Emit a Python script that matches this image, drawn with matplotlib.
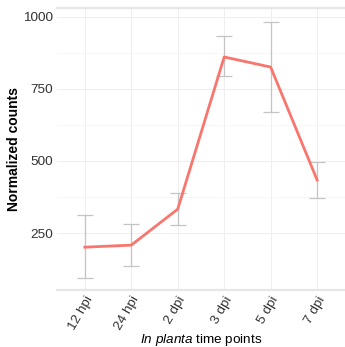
import numpy as np
import matplotlib.pyplot as plt

# data
timepoints = ['12 hpi', '24 hpi', '2 dpi', '3 dpi', '5 dpi', '7 dpi']
counts = [201, 208, 333, 861, 826, 434]
err_low = [94, 135, 278, 795, 670, 371]
err_high = [312, 281, 389, 934, 983, 497]

plt.rcParams['font.family'] = ['Liberation Sans', 'DejaVu Sans']
plt.rcParams['mathtext.fontset'] = 'custom'
plt.rcParams['mathtext.it'] = 'Liberation Sans:italic'
plt.rcParams['mathtext.rm'] = 'Liberation Sans'

fig = plt.figure(figsize=(3.45, 3.47), dpi=100)
ax = fig.add_axes([0.165, 0.164, 0.835, 0.813])

x = np.arange(len(timepoints))
lo = np.array(counts) - np.array(err_low)
hi = np.array(err_high) - np.array(counts)

# error bars first, line on top
ax.errorbar(x, counts, yerr=[lo, hi], fmt='none', ecolor='#c4c4c4',
            elinewidth=0.9, capsize=6, capthick=0.9, zorder=2)
ax.plot(x, counts, color='#F8766D', lw=2, zorder=3)

ax.set_xlim(-0.6, 5.6)
ax.set_ylim(52, 1031)
ax.set_xticks(x)
ax.set_xticklabels(timepoints, rotation=60, ha='right', rotation_mode='anchor')
ax.set_yticks([250, 500, 750, 1000])
ax.set_yticks([375, 625, 875], minor=True)

# minimal theme look
ax.grid(True, which='major', color='#efefef', lw=0.8)
ax.grid(True, which='minor', axis='y', color='#f6f6f6', lw=0.6)
ax.set_axisbelow(True)
ax.tick_params(length=0, labelsize=9.7, colors='#333333', pad=3)
ax.tick_params(which='minor', length=0)
for side in ['left', 'right']:
    ax.spines[side].set_visible(False)
for side in ['top', 'bottom']:
    ax.spines[side].set_color('#e6e6e6')
    ax.spines[side].set_linewidth(1.6)

ax.set_ylabel('Normalized counts', fontsize=10, fontweight='bold', labelpad=1)
ax.set_xlabel(r'$\it{In\ planta}$ time points', fontsize=9.7, labelpad=0)

fig.savefig('out.png', dpi=100)
